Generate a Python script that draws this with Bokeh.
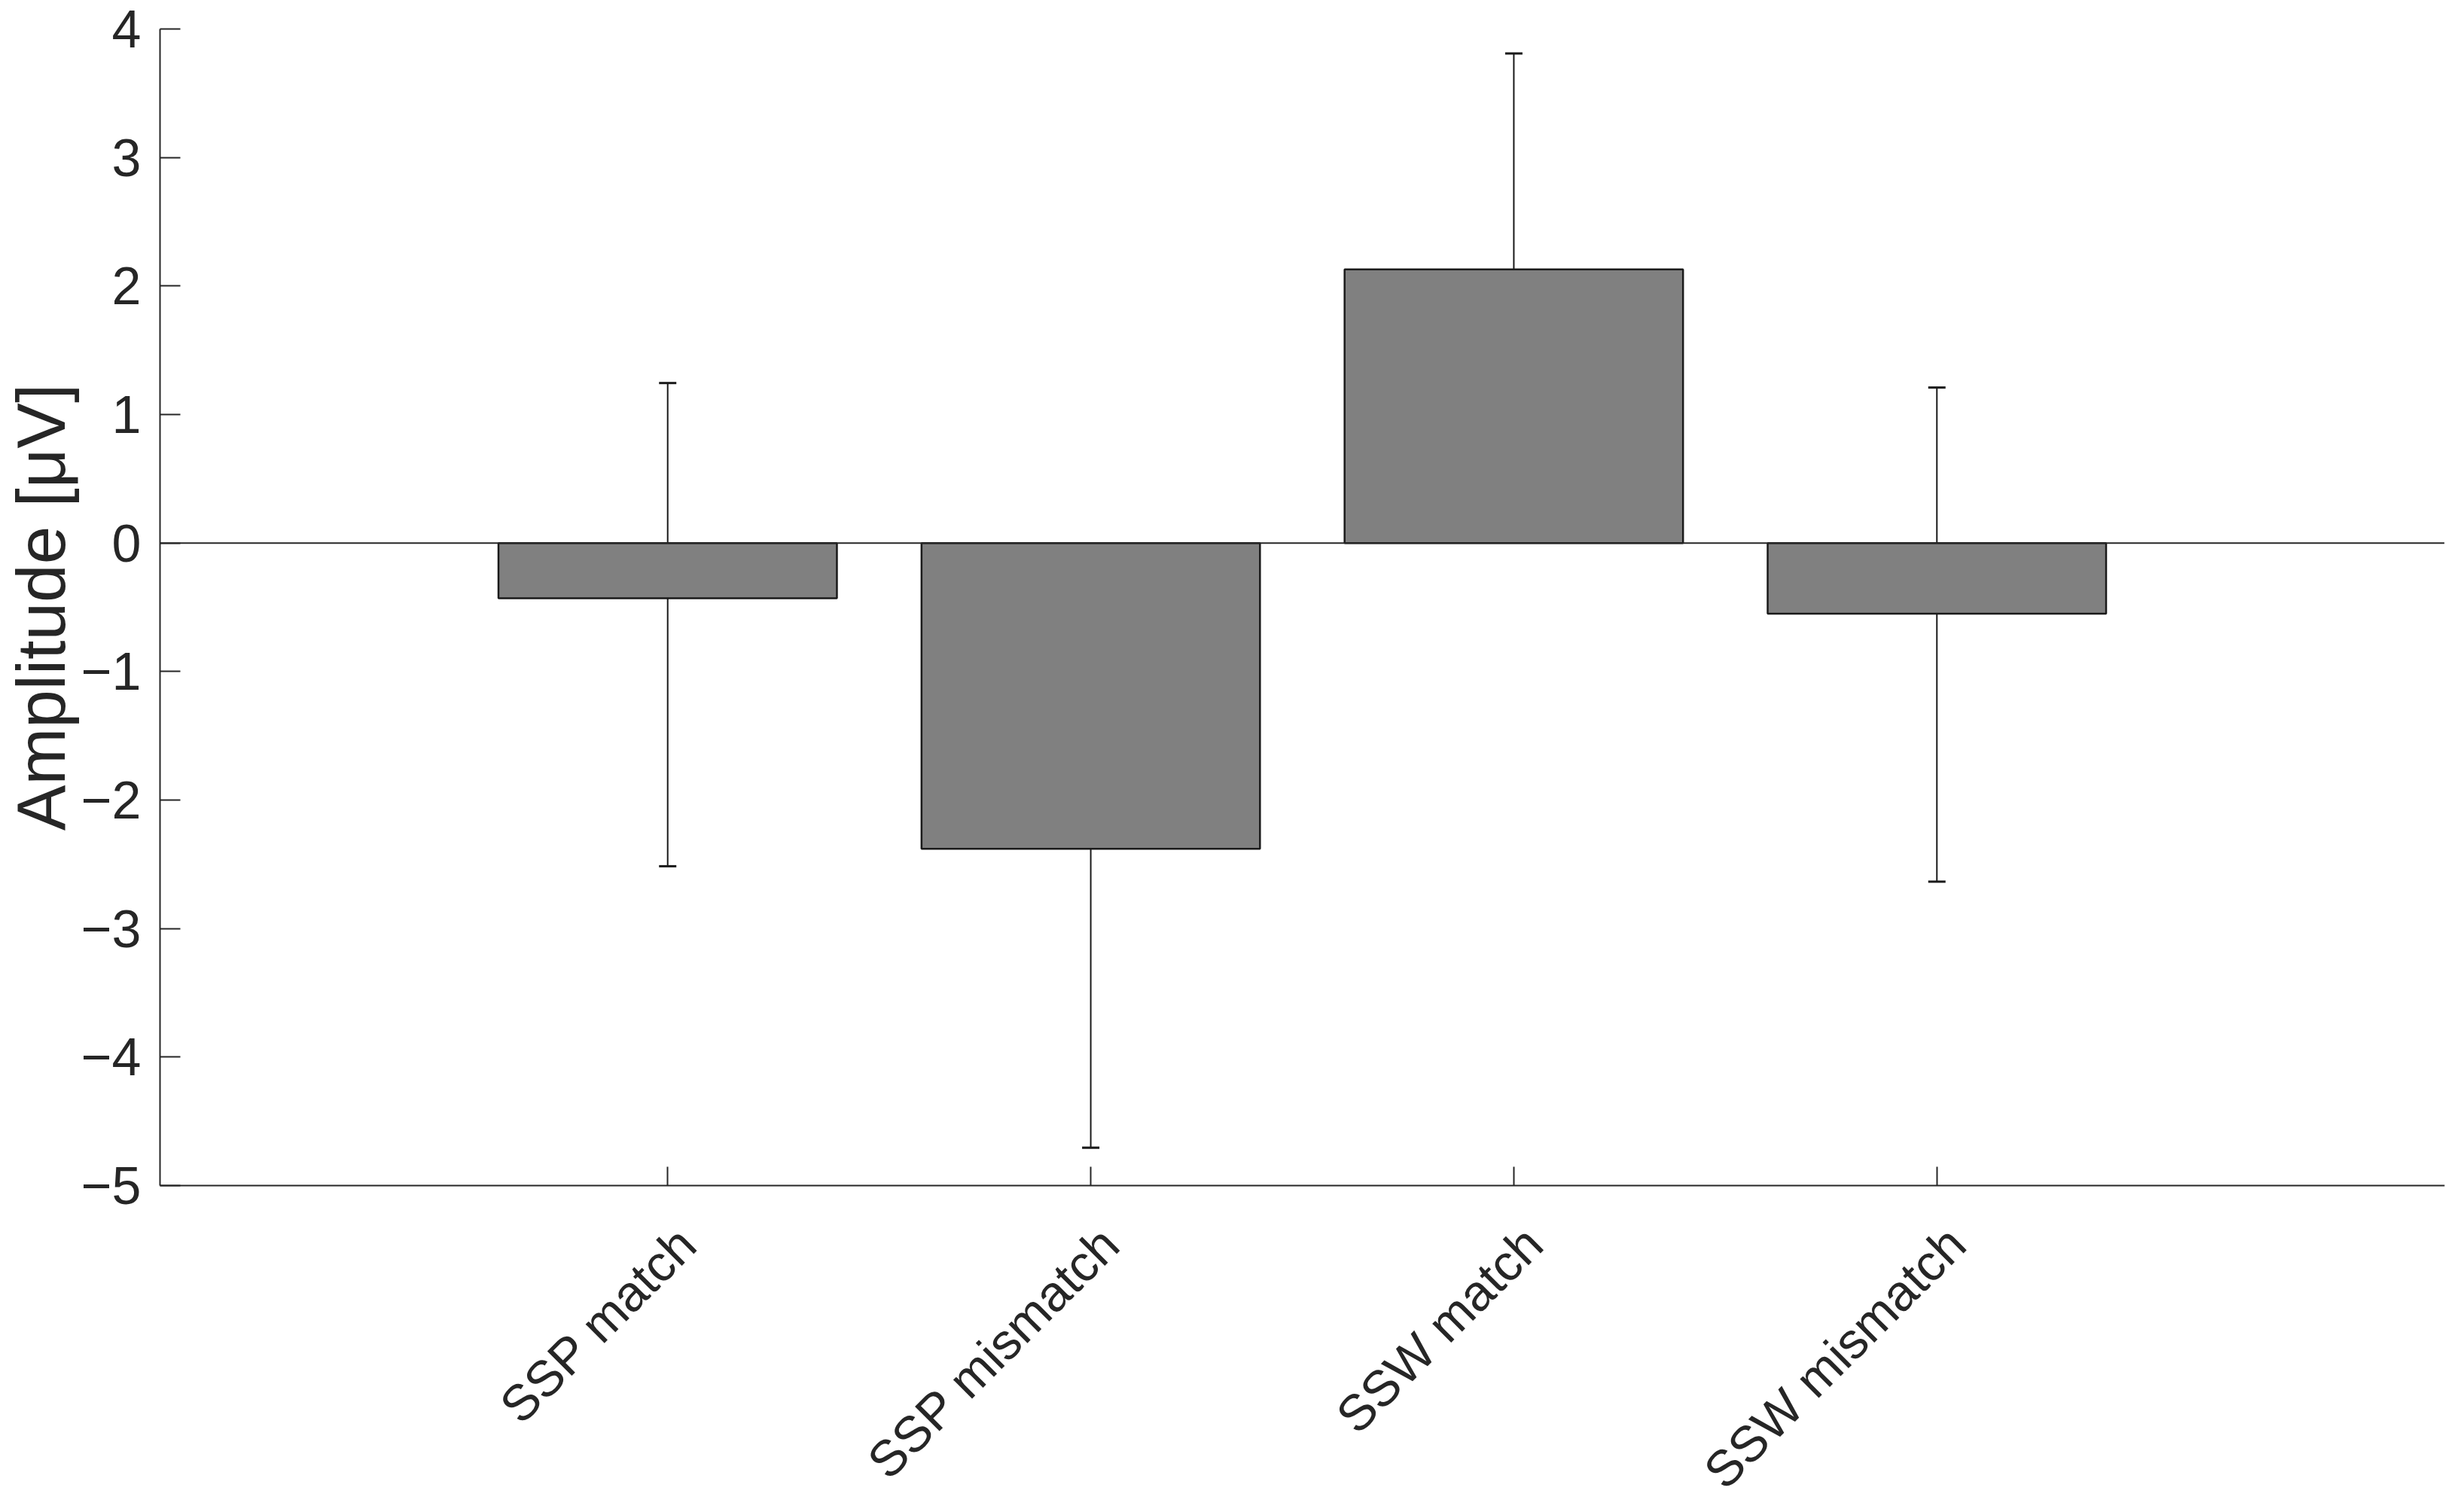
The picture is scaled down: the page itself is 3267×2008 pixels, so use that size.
import math
from bokeh.plotting import figure
from bokeh.layouts import column
from bokeh.models import (ColumnDataSource, Range1d, FixedTicker, Span, Whisker, TeeHead)
from bokeh.core.properties import value
from bokeh.embed import file_html
from bokeh.resources import INLINE

# ---- data ----
categories = ["SSP match", "SSP mismatch", "SSW match", "SSW mismatch"]
positions = [1, 2, 3, 4]
amplitude = [-0.43, -2.38, 2.13, -0.55]
err_upper = [1.245, -0.325, 3.81, 1.21]
err_lower = [-2.515, -4.705, 0.01, -2.635]
y_ticks = [-5, -4, -3, -2, -1, 0, 1, 2, 3, 4]
y_tick_labels = ["\u22125", "\u22124", "\u22123", "\u22122", "\u22121", "0", "1", "2", "3", "4"]

TEXT = "#262626"
FONT = "Liberation Sans"
W = 3251
H_MAIN = 1616
H_LAB = 376
LEFT, RIGHT = 205, 5

src = ColumnDataSource(dict(x=positions, top=amplitude, upper=err_upper,
                            lower=err_lower, name=categories))

x_range = Range1d(-0.2, 5.2)
p = figure(width=W, height=H_MAIN, output_backend="svg", toolbar_location=None,
           x_range=x_range, y_range=Range1d(y_ticks[0], y_ticks[-1]),
           min_border_left=LEFT, min_border_right=RIGHT, min_border_top=38,
           min_border_bottom=42)
p.outline_line_color = None
p.xgrid.grid_line_color = None
p.ygrid.grid_line_color = None
p.background_fill_color = "white"
p.border_fill_color = "white"

p.vbar(x="x", top="top", bottom=0, width=0.8, source=src,
       fill_color="#808080", line_color="#1a1a1a", line_width=2.5)

p.add_layout(Span(location=0, dimension="width", line_color="#262626", line_width=2))

p.add_layout(Whisker(source=src, base="x", upper="upper", lower="lower",
                     line_color="#1a1a1a", line_width=2,
                     upper_head=TeeHead(size=23, line_width=3, line_color="#1a1a1a"),
                     lower_head=TeeHead(size=23, line_width=3, line_color="#1a1a1a")))

# y axis
ya = p.yaxis[0]
ya.ticker = FixedTicker(ticks=y_ticks)
ya.major_label_overrides = {t: s for t, s in zip(y_ticks, y_tick_labels)}
ya.major_tick_in = 27
ya.major_tick_out = 0
ya.minor_tick_line_color = None
ya.major_label_standoff = 25
ya.major_label_text_font = FONT
ya.major_label_text_font_size = "70px"
ya.major_label_text_color = TEXT
ya.axis_line_color = TEXT
ya.axis_line_width = 2
ya.major_tick_line_color = TEXT
ya.major_tick_line_width = 2
ya.axis_label = "Amplitude [\u03bcV]"
ya.axis_label_text_font = FONT
ya.axis_label_text_font_size = "91px"
ya.axis_label_text_font_style = "normal"
ya.axis_label_text_color = TEXT
ya.axis_label_standoff = 0

# x axis: line and inward ticks; names are drawn in the strip below
xa = p.xaxis[0]
xa.ticker = FixedTicker(ticks=positions)
xa.major_label_overrides = {t: "" for t in positions}
xa.major_tick_in = 25
xa.major_tick_out = 0
xa.minor_tick_line_color = None
xa.major_label_standoff = 0
xa.major_label_text_font_size = "1px"
xa.axis_line_color = TEXT
xa.axis_line_width = 2
xa.major_tick_line_color = TEXT
xa.major_tick_line_width = 2

# strip with the rotated category names, sharing the x range
q = figure(width=W, height=H_LAB, output_backend="svg", toolbar_location=None,
           x_range=x_range, y_range=Range1d(0, 1),
           x_axis_location=None, y_axis_location=None,
           min_border_left=LEFT, min_border_right=RIGHT, min_border_top=0,
           min_border_bottom=0)
q.outline_line_color = None
q.xgrid.grid_line_color = None
q.ygrid.grid_line_color = None
q.background_fill_color = "white"
q.border_fill_color = "white"

lab_src = ColumnDataSource(dict(x=positions, y=[q.y_range.end] * len(positions), name=categories))
q.text(x="x", y="y", text="name", source=lab_src, angle=math.pi / 4,
       text_align="right", text_baseline="middle", x_offset=26, y_offset=24,
       text_font=value(FONT), text_font_size="67px", text_color=TEXT)

layout = column(p, q, spacing=0)
open("out.html", "w").write(file_html(layout, INLINE))
